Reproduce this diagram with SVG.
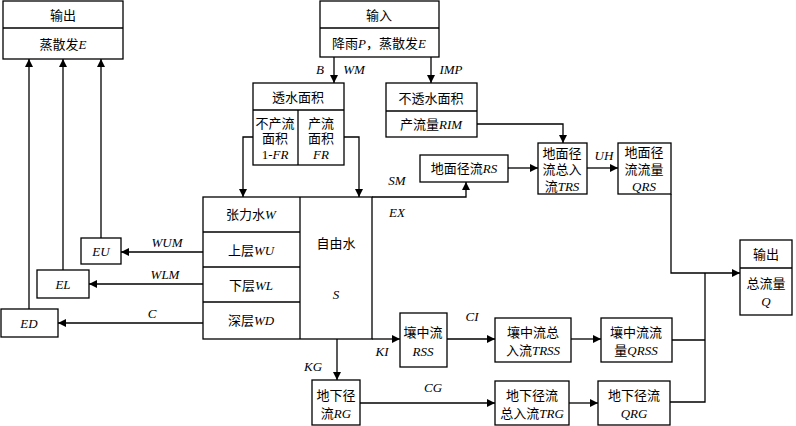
<svg xmlns="http://www.w3.org/2000/svg" width="796" height="426" viewBox="0 0 796 426">
<defs>
<marker id="ah" viewBox="0 0 10 10" refX="10" refY="5" markerWidth="8" markerHeight="8" markerUnits="userSpaceOnUse" orient="auto"><path d="M0,0 L10,5 L0,10 z" fill="#000"/></marker>
<style>
.b{fill:#fff;stroke:#000;stroke-width:1.3}
.l{fill:none;stroke:#000;stroke-width:1.3}
.c{fill:none;stroke:#000;stroke-width:1.3}
.a{marker-end:url(#ah)}
text{font-family:"Liberation Serif","Noto Sans CJK SC",serif;font-size:13px;fill:#000;text-anchor:middle;dominant-baseline:central}
.i{font-style:italic}
.lab{font-style:italic;font-size:13px}
</style>
</defs>
<rect width="796" height="426" fill="#fff"/>
<g id="out-e">
<rect class="b" x="3" y="1" width="120" height="58"/><line class="l" x1="3" y1="28" x2="123" y2="28"/>
<text x="63" y="15">输出</text><text x="63" y="44">蒸散发<tspan class="i">E</tspan></text>
</g>
<g id="input">
<rect class="b" x="320" y="1" width="119" height="56"/><line class="l" x1="320" y1="28" x2="439" y2="28"/>
<text x="379" y="15">输入</text><text x="379" y="43">降雨<tspan class="i">P</tspan>，蒸散发<tspan class="i">E</tspan></text>
</g>
<g id="pervious">
<rect class="b" x="253" y="83" width="91" height="82"/><line class="l" x1="253" y1="110" x2="344" y2="110"/><line class="l" x1="298" y1="110" x2="298" y2="165"/>
<text x="298" y="97">透水面积</text>
<text x="275" y="123">不产流</text><text x="275" y="138">面积</text><text x="275" y="154">1-<tspan class="i">FR</tspan></text>
<text x="321" y="123">产流</text><text x="321" y="138">面积</text><text x="321" y="154" class="i">FR</text>
</g>
<g id="impervious">
<rect class="b" x="386" y="83" width="91" height="54"/><line class="l" x1="386" y1="111" x2="477" y2="111"/>
<text x="431" y="98">不透水面积</text><text x="431" y="124">产流量<tspan class="i">RIM</tspan></text>
</g>
<g id="rs">
<rect class="b" x="420" y="155" width="88" height="27"/>
<text x="464" y="168">地面径流<tspan class="i">RS</tspan></text>
</g>
<g id="trs">
<rect class="b" x="538" y="143" width="49" height="51"/>
<text x="562" y="153">地面径</text><text x="562" y="169">流总入</text><text x="562" y="186">流<tspan class="i">TRS</tspan></text>
</g>
<g id="qrs">
<rect class="b" x="618" y="143" width="53" height="51"/>
<text x="644" y="152">地面径</text><text x="644" y="169">流流量</text><text x="644" y="186" class="i">QRS</text>
</g>
<g id="out-q">
<rect class="b" x="740" y="240" width="52" height="75"/><line class="l" x1="740" y1="268" x2="792" y2="268"/>
<text x="766" y="254">输出</text><text x="766" y="283">总流量</text><text x="766" y="301" class="i">Q</text>
</g>
<g id="soil">
<rect class="b" x="203" y="197" width="169" height="142"/>
<line class="l" x1="300" y1="197" x2="300" y2="339"/>
<line class="l" x1="203" y1="232" x2="300" y2="232"/><line class="l" x1="203" y1="267" x2="300" y2="267"/><line class="l" x1="203" y1="302" x2="300" y2="302"/>
<text x="251" y="214">张力水<tspan class="i">W</tspan></text>
<text x="251" y="250">上层<tspan class="i">WU</tspan></text>
<text x="251" y="285">下层<tspan class="i">WL</tspan></text>
<text x="251" y="320">深层<tspan class="i">WD</tspan></text>
<text x="336" y="243">自由水</text><text x="336" y="294" class="i">S</text>
</g>
<g id="eu"><rect class="b" x="81" y="238" width="40" height="26"/><text x="101" y="251" class="i">EU</text></g>
<g id="el"><rect class="b" x="37" y="270" width="52" height="28"/><text x="63" y="284" class="i">EL</text></g>
<g id="ed"><rect class="b" x="1" y="309" width="57" height="28"/><text x="29" y="323" class="i">ED</text></g>
<g id="rss"><rect class="b" x="400" y="313" width="47" height="54"/><text x="423" y="332">壤中流</text><text x="423" y="351" class="i">RSS</text></g>
<g id="trss"><rect class="b" x="495" y="318" width="76" height="44"/><text x="533" y="332">壤中流总</text><text x="533" y="350">入流<tspan class="i">TRSS</tspan></text></g>
<g id="qrss"><rect class="b" x="601" y="318" width="71" height="44"/><text x="636" y="332">壤中流流</text><text x="636" y="350">量<tspan class="i">QRSS</tspan></text></g>
<g id="rg"><rect class="b" x="312" y="380" width="48" height="45"/><text x="336" y="395">地下径</text><text x="336" y="413">流<tspan class="i">RG</tspan></text></g>
<g id="trg"><rect class="b" x="495" y="381" width="74" height="44"/><text x="532" y="395">地下径流</text><text x="532" y="413">总入流<tspan class="i">TRG</tspan></text></g>
<g id="qrg"><rect class="b" x="598" y="381" width="72" height="44"/><text x="634" y="395">地下径流</text><text x="634" y="413" class="i">QRG</text></g>
<g id="connectors">
<path class="c a" d="M29,309 V59"/>
<path class="c a" d="M63,270 V59"/>
<path class="c a" d="M101,238 V59"/>
<path class="c a" d="M203,252 H121"/>
<path class="c a" d="M203,284 H89"/>
<path class="c a" d="M203,323 H58"/>
<path class="c a" d="M334,57 V83"/>
<path class="c a" d="M431,57 V83"/>
<path class="c a" d="M253,137 H243 V197"/>
<path class="c a" d="M344,137 H359 V197"/>
<path class="c a" d="M477,124 H563 V143"/>
<path class="c a" d="M372,197 H466 V182"/>
<path class="c a" d="M508,168 H538"/>
<path class="c a" d="M587,168 H618"/>
<path class="c a" d="M671,194 V273 H740"/>
<path class="c a" d="M372,339 H400"/>
<path class="c a" d="M337,339 V380"/>
<path class="c a" d="M447,339 H495"/>
<path class="c a" d="M571,339 H601"/>
<path class="c" d="M672,340 H705"/>
<path class="c a" d="M360,403 H495"/>
<path class="c a" d="M569,403 H598"/>
<path class="c" d="M670,402 H705 V273"/>
</g>
<g id="labels">
<text x="320" y="69" class="lab">B</text>
<text x="354" y="69" class="lab">WM</text>
<text x="451" y="69" class="lab">IMP</text>
<text x="397" y="180" class="lab">SM</text>
<text x="397" y="212" class="lab">EX</text>
<text x="604" y="155" class="lab">UH</text>
<text x="167" y="242" class="lab">WUM</text>
<text x="165" y="274" class="lab">WLM</text>
<text x="152" y="313" class="lab">C</text>
<text x="472" y="316" class="lab">CI</text>
<text x="382" y="351" class="lab">KI</text>
<text x="313" y="366" class="lab">KG</text>
<text x="433" y="387" class="lab">CG</text>
</g>
</svg>
